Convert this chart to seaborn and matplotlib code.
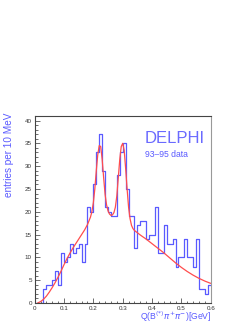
import numpy as np
import pandas as pd
import matplotlib
matplotlib.use("Agg")
import matplotlib.pyplot as plt
import seaborn as sns

# histogram: entries per 10 MeV bin, Q from 0 to 0.6 GeV
bin_edges = [round(0.01 * i, 3) for i in range(61)]
counts = [0, 0, 0, 3, 4, 4, 5, 7, 4, 11,
          9, 10, 13, 11, 12, 13, 9, 13, 21, 20,
          26, 33, 37, 29, 21, 20, 19, 19, 28, 33,
          35, 25, 19, 19, 12, 17, 18, 18, 14, 15,
          15, 21, 11, 11, 17, 13, 13, 14, 8, 10,
          10, 14, 10, 10, 8, 14, 3, 3, 2, 4]

# fitted curve
fit_q = [0.01, 0.02, 0.03, 0.04, 0.05, 0.06, 0.07, 0.08, 0.09, 0.10,
         0.11, 0.12, 0.13, 0.14, 0.15, 0.16, 0.17, 0.18, 0.19, 0.195,
         0.20, 0.205, 0.21, 0.215, 0.22, 0.225, 0.23, 0.235, 0.24, 0.245,
         0.25, 0.255, 0.26, 0.265, 0.27, 0.275, 0.28, 0.285, 0.29, 0.295,
         0.30, 0.305, 0.31, 0.315, 0.32, 0.325, 0.33, 0.335, 0.34, 0.35,
         0.36, 0.38, 0.40, 0.42, 0.44, 0.46, 0.48, 0.50, 0.52, 0.54,
         0.56, 0.58, 0.60]
fit_val = [0.0, 0.3, 0.8, 1.5, 2.4, 3.4, 4.5, 5.7, 7.0, 8.4,
           9.7, 10.9, 12.0, 13.0, 14.0, 15.0, 16.0, 17.2, 18.8, 20.0,
           22.0, 25.0, 29.0, 32.5, 34.5, 34.3, 31.5, 27.5, 23.8, 21.5,
           20.2, 19.5, 19.2, 19.3, 19.8, 21.0, 23.5, 27.5, 31.5, 34.3,
           35.0, 33.5, 29.5, 25.0, 21.0, 18.5, 17.0, 16.3, 15.9, 15.4,
           14.9, 14.0, 13.0, 12.0, 11.0, 9.9, 8.8, 7.8, 6.9, 6.1,
           5.4, 4.8, 4.3]

x_ticks = [0, 0.1, 0.2, 0.3, 0.4, 0.5, 0.6]
x_tick_labels = ["0", "0.1", "0.2", "0.3", "0.4", "0.5", "0.6"]
y_ticks = [0, 5, 10, 15, 20, 25, 30, 35, 40]

blue = "#5a5aff"
red = "#ff4d4d"

sns.set_style("ticks")
plt.rcParams["font.family"] = ["Liberation Sans", "DejaVu Sans"]

fig = plt.figure(figsize=(2.53, 3.27), dpi=100)
ax = fig.add_axes([0.137, 0.0734, 0.696, 0.572])

centers = [(a + b) / 2 for a, b in zip(bin_edges[:-1], bin_edges[1:])]
hist_df = pd.DataFrame({"q": centers, "n": counts})
sns.histplot(data=hist_df, x="q", weights="n", bins=bin_edges,
             element="step", fill=False, color=blue, linewidth=0.9, ax=ax)

fit_df = pd.DataFrame({"q": fit_q, "v": fit_val})
sns.lineplot(data=fit_df, x="q", y="v", color=red, linewidth=0.9, ax=ax)

ax.set_xlim(0, 0.6)
ax.set_ylim(0, 41)
ax.set_xticks(x_ticks)
ax.set_xticklabels(x_tick_labels)
ax.set_yticks(y_ticks)
ax.set_xticks(np.arange(0, 0.601, 0.02), minor=True)
ax.set_yticks(np.arange(0, 41, 1), minor=True)
ax.tick_params(which="both", direction="in", labelsize=4.5, colors="#333333",
               width=0.5, pad=2)
ax.tick_params(which="major", length=3.5)
ax.tick_params(which="minor", length=1.8)
for side in ["left", "bottom", "top", "right"]:
    ax.spines[side].set_visible(True)
    ax.spines[side].set_linewidth(0.8)
    ax.spines[side].set_color("#444444")
ax.spines["right"].set_color("#999999")

ax.set_xlabel("")
ax.set_ylabel("")
fig.text(0.036, 0.655, "entries per 10 MeV", rotation=90, color=blue,
         fontsize=7.2, ha="center", va="top")
fig.text(0.838, 0.03, r"Q(B$^{(*)}$$\pi^{+}\pi^{-}$)[GeV]", color=blue,
         fontsize=6.2, ha="right", va="center")

# experiment label
ax.text(0.793, 0.881, "DELPHI", transform=ax.transAxes, color="#6a6aff",
        fontsize=12, ha="center", va="center")
ax.text(0.627, 0.796, "93\u201395 data", transform=ax.transAxes, color=blue,
        fontsize=6.2, ha="left", va="center")

fig.savefig("out.png", dpi=100)
